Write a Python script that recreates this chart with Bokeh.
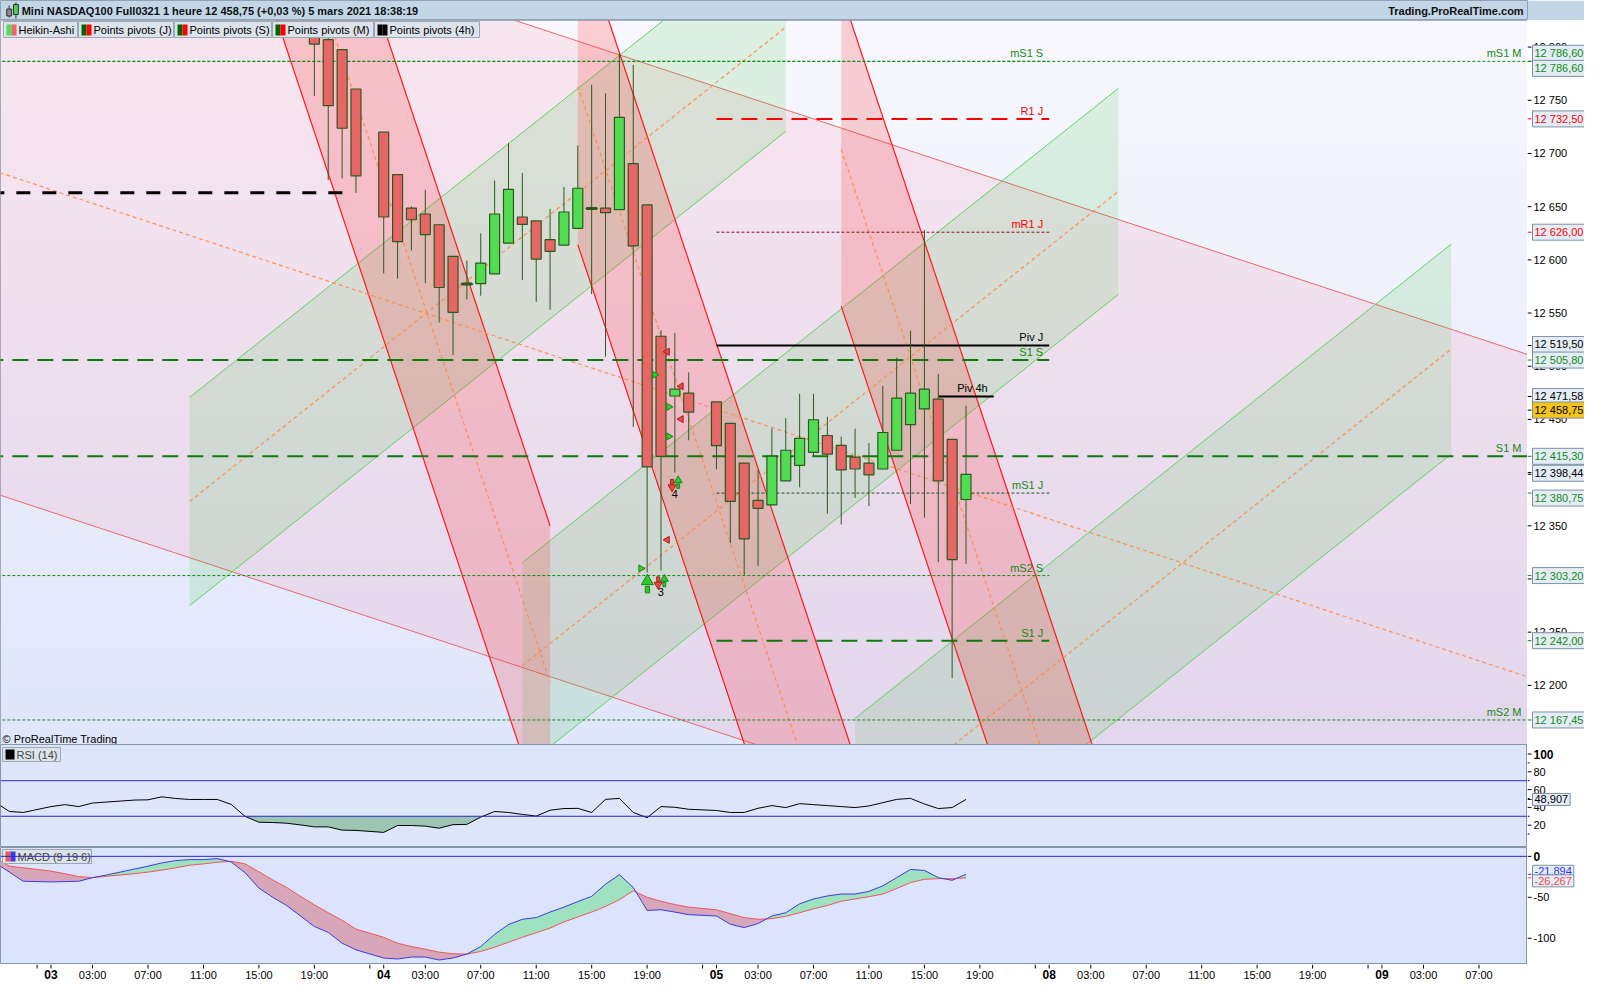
import numpy as np
from bokeh.plotting import figure
from bokeh.layouts import column, row
from bokeh.models import Range1d, Label, Span
from bokeh.embed import file_html
from bokeh.resources import INLINE
from bokeh.core.properties import value

FONT = "Liberation Sans"

# ---------------- data ----------------
ha_hour = [19, 20, 21, 22, 24, 25, 26, 27, 28, 29, 30, 31,
           32, 33, 34, 35, 36, 37, 38, 39, 40, 41, 42, 43,
           44, 45, 46,
           48, 49, 50, 51, 52, 53, 54, 55, 56, 57, 58, 59,
           60, 61, 62, 63, 64, 65, 66]
ha_open = [12812.0, 12807.0, 12797.6, 12760.6, 12720.0, 12680.2, 12648.7, 12643.1, 12633.0, 12603.3, 12577.5, 12577.7,
           12586.9, 12615.7, 12640.3, 12636.6, 12619.0, 12613.9, 12629.6, 12648.5, 12648.7, 12647.2, 12690.4, 12651.6,
           12528.2, 12472.0, 12474.7,
           12466.4, 12446.3, 12409.0, 12373.8, 12369.7, 12392.3, 12406.8, 12419.1, 12434.9, 12425.6, 12414.5, 12409.0,
           12403.4, 12421.0, 12445.1, 12459.9, 12469.1, 12431.2, 12374.7]
ha_close = [12802.8, 12744.9, 12723.7, 12679.0, 12640.3, 12617.2, 12637.7, 12623.8, 12574.0, 12550.6, 12577.0, 12597.0,
            12643.1, 12666.2, 12633.3, 12600.7, 12608.0, 12645.0, 12667.3, 12648.1, 12644.3, 12734.0, 12613.1, 12405.3,
            12415.2, 12478.4, 12456.8,
            12425.3, 12372.9, 12337.7, 12366.4, 12415.5, 12421.0, 12432.1, 12449.7, 12417.3, 12402.5, 12403.4, 12397.9,
            12437.7, 12470.1, 12474.7, 12478.4, 12392.3, 12318.2, 12398.4]
ha_high = [12820.0, 12812.0, 12797.6, 12760.6, 12720.0, 12680.2, 12650.2, 12665.9, 12633.0, 12603.3, 12599.3, 12624.9,
           12674.6, 12709.8, 12681.7, 12636.6, 12648.0, 12668.5, 12707.6, 12764.7, 12756.7, 12794.7, 12783.3, 12651.6,
           12533.8, 12531.2, 12494.2,
           12466.4, 12446.3, 12409.0, 12403.0, 12441.4, 12451.2, 12474.1, 12474.1, 12452.5, 12433.9, 12441.4, 12427.8,
           12481.5, 12508.0, 12533.3, 12628.0, 12492.6, 12431.2, 12462.7]
ha_low = [12754.0, 12675.0, 12676.5, 12663.0, 12587.2, 12582.4, 12608.8, 12578.0, 12541.1, 12510.7, 12562.7, 12566.3,
          12586.9, 12615.7, 12581.0, 12560.5, 12553.0, 12613.9, 12629.6, 12567.8, 12508.9, 12647.2, 12443.0, 12306.1,
          12308.0, 12400.0, 12430.3,
          12403.1, 12333.6, 12303.7, 12312.0, 12369.7, 12392.3, 12386.1, 12415.7, 12361.4, 12351.2, 12376.2, 12368.5,
          12403.4, 12421.0, 12370.6, 12357.7, 12316.0, 12207.0, 12314.2]

ind_hour = [-4, -3, -2, 0, 1, 2, 3, 4, 5, 6, 7, 8, 9, 10, 11, 12, 13, 14, 15, 16, 17, 18, 19, 20, 21, 22,
            24, 25, 26, 27, 28, 29, 30, 31, 32, 33, 34, 35, 36, 37, 38, 39, 40, 41, 42, 43, 44, 45, 46,
            48, 49, 50, 51, 52, 53, 54, 55, 56, 57, 58, 59, 60, 61, 62, 63, 64, 65, 66]
rsi = [45.5, 35.4, 34.3, 40.9, 43.1, 40.9, 44.9, 46.0, 47.1, 48.2, 48.5, 51.9, 50.0, 48.9, 48.9, 48.9, 43.4, 29.9,
       23.3, 23.0, 22.2, 20.3, 18.1, 18.1, 14.4, 14.1,
       11.9, 19.6, 19.6, 18.9, 16.6, 20.6, 20.9, 29.1, 35.4, 34.3, 32.1, 30.2, 36.8, 38.7, 38.9, 34.3, 49.0, 50.1,
       34.3, 28.4, 40.9, 40.1, 37.9,
       36.5, 34.3, 34.3, 39.0, 42.0, 39.8, 44.2, 43.1, 42.0, 40.9, 39.8, 41.6, 45.3, 49.0, 50.1, 43.8, 38.7, 39.8, 48.907]
macd = [-8.0, -19.2, -30.4, -31.2, -30.8, -30.4, -26.0, -22.8, -19.2, -15.6, -12.0, -8.0, -5.2, -4.0, -4.0, -2.8,
        -6.8, -20.0, -38.8, -50.0, -60.0, -72.8, -85.6, -92.8, -106.0, -114.1,
        -124.1, -125.3, -122.9, -122.9, -126.5, -124.1, -119.3, -110.1, -95.3, -83.2, -76.8, -74.8, -68.0, -62.0,
        -55.2, -48.8, -34.0, -22.4, -38.0, -66.0, -65.2, -68.0, -71.2,
        -72.8, -82.9, -86.9, -82.1, -72.8, -68.8, -58.0, -52.0, -48.4, -46.0, -46.0, -42.8, -36.0, -26.0, -16.0,
        -17.2, -26.0, -29.2, -21.894]
signal = [-2.6, -12.0, -14.0, -18.0, -21.2, -24.8, -26.0, -24.4, -22.8, -21.2, -19.2, -16.8, -14.0, -10.8, -9.2,
          -7.2, -6.0, -9.2, -18.8, -28.8, -38.0, -48.8, -59.2, -68.8, -78.0, -88.8,
          -98.8, -106.0, -110.1, -113.3, -116.9, -118.9, -119.3, -116.1, -110.9, -104.9, -98.8, -93.2, -87.6, -80.0,
          -74.0, -68.0, -61.2, -52.8, -42.0, -50.0, -54.8, -58.8, -62.0,
          -65.2, -70.0, -74.8, -76.8, -76.0, -73.2, -68.8, -64.0, -60.0, -54.8, -52.0, -49.2, -46.0, -39.2, -32.0,
          -28.0, -27.2, -27.2, -26.267]

# pivot levels
lvl_name = ["mS1 S", "mS1 M", "R1 J", "mR1 J", "Piv J", "S1 S", "Piv 4h", "S1 M", "mS1 J", "mS2 S", "S1 J", "mS2 M", ""]
lvl_value = [12786.60, 12786.60, 12732.50, 12626.00, 12519.50, 12505.80, 12471.58, 12415.30, 12380.75, 12303.20,
             12242.00, 12167.45, 12663.0]
lvl_start = [-10, -10, 48, 48, 48, -10, 64, -10, 48, -10, 48, -10, -10]
lvl_end = [72, 120, 72, 72, 72, 72, 68, 120, 72, 72, 72, 120, 21.4]

# regression channels
red_ch_start = [12, 38, 57]
red_ch_end = [36, 62, 81]
red_ch_top = [13287.7, 12912.0, 12851.5]
red_ch_width = [294.0, 297.7, 295.0]
red_ch_slope = -39.07
green_ch_start = [10, 34, 58]
green_ch_end = [53, 77, 101]
green_ch_top = [12470.7, 12315.4, 12168.9]
green_ch_width = [195.8, 193.7, 197.4]
green_ch_slope = 10.37
big_ch_start, big_ch_end, big_ch_top, big_ch_width, big_ch_slope = -20, 120, 13055.0, 606.0, -4.3

# signal markers
tri_r_h = [43.55, 44.57, 44.57, 42.55]
tri_r_v = [12491.9, 12461.8, 12434.0, 12309.9]
tri_l_h = [44.45, 45.45, 45.45, 44.45]
tri_l_v = [12513.6, 12481.2, 12450.3, 12336.8]
up_h = [43.02, 44.24, 45.24]
up_v = [12295.1, 12298.1, 12390.7]
down_h = [43.8, 44.8]
down_v = [12296.6, 12388.2]
num_h = [43.98, 45.0]
num_v = [12287.3, 12380.0]
num_text = ["3", "4"]

last_price = 12458.75
ha_last_close = 12398.44

# axis ticks
price_ticks = [12200, 12250, 12300, 12350, 12400, 12450, 12500, 12550, 12600, 12650, 12700, 12750, 12800]
rsi_ticks = [20, 40, 60, 80, 100]
rsi_minor = [10, 30, 50, 70, 90]
macd_ticks = [-100, -50, 0]
day_h = [0, 24, 48, 72, 96]
day_lbl = ["03", "04", "05", "08", "09"]
hour_off = [3, 7, 11, 15, 19]

# ---------------- layout constants ----------------
W, AXW = 1584, 57
PW = W - AXW
H_HEAD, H_MAIN, H_RSI, H_MACD, H_XAX = 20, 724, 103, 117, 20
X0, X1 = -3.64, 106.5
Y0, Y1 = 12144.4, 12825.0
R0, R1 = -5.1, 110.7
M0, M1 = -132.0, 10.8
XS = PW / (X1 - X0)
YS = H_MAIN / (Y1 - Y0)
RS = H_RSI / (R1 - R0)
MS = H_MACD / (M1 - M0)

GREEN_T = "#138a13"
RED_T = "#ff0000"
BOX_BG = "#e4ecf6"
BOX_LINE = "#7e90a4"
OUTLINE = "#8597a8"


def fmt_price(v):
    return f"{v:,.2f}".replace(",", " ").replace(".", ",")


def hx(px):
    return X0 + px / XS


def make_panel(height, yr, bg):
    f = figure(width=PW, height=height, x_range=p_xr, y_range=yr,
               x_axis_location=None, y_axis_location=None,
               toolbar_location=None, output_backend="svg", min_border=0,
               background_fill_color=bg, border_fill_color="white", outline_line_color=OUTLINE)
    f.grid.visible = False
    return f


def make_strip(height, yr):
    s = figure(width=AXW, height=height, x_range=Range1d(0, AXW), y_range=yr,
               x_axis_location=None, y_axis_location=None,
               toolbar_location=None, output_backend="svg", min_border=0,
               background_fill_color="white", border_fill_color="white", outline_line_color=None)
    s.grid.visible = False
    return s


def strip_ticks(s, ticks, labels, minor=None, bold=None):
    s.segment(x0=0, x1=4, y0=ticks, y1=ticks, line_color="black", line_width=1)
    if minor:
        s.segment(x0=0, x1=2, y0=minor, y1=minor, line_color="black", line_width=1)
    norm = [(t, l) for t, l in zip(ticks, labels) if t != bold]
    s.text(x=6, y=[t for t, _ in norm], text=[l for _, l in norm], text_font=value(FONT),
           text_font_size="11px", text_baseline="middle", text_align="left", text_color="black")
    if bold is not None:
        s.text(x=[6], y=[bold], text=[labels[ticks.index(bold)]], text_font=value(FONT), text_font_size="12px",
               text_font_style="bold", text_baseline="middle", text_align="left", text_color="black")


def box_label(s, y, text, color, bg=BOX_BG, y_offset=0):
    s.segment(x0=[0], x1=[4], y0=[y], y1=[y], line_color=color, line_width=1)
    s.add_layout(Label(x=5, y=y, x_offset=0, y_offset=y_offset, text=text, text_color=color,
                       text_font=FONT, text_font_size="11px", text_baseline="middle", text_align="left",
                       background_fill_color=bg, border_line_color=BOX_LINE, padding=2))


# ---------------- header ----------------
hd = figure(width=W, height=H_HEAD, x_range=Range1d(0, W), y_range=Range1d(0, H_HEAD),
            x_axis_location=None, y_axis_location=None, toolbar_location=None, output_backend="svg",
            min_border=0, background_fill_color="#c2d6e8", border_fill_color="#c2d6e8",
            outline_line_color="#8fa3b5")
hd.grid.visible = False
hd.segment(x0=[9, 16], y0=[3, 2], x1=[9, 16], y1=[15, 18], line_color="#303030")
hd.rect(x=[9, 16], y=[8, 11], width=[5, 5], height=[7, 10], fill_color=["#8a8a8a", "#4fd24f"],
        line_color="#303030")
hd.add_layout(Label(x=22, y=10, text="Mini NASDAQ100 Full0321 1 heure 12 458,75 (+0,03 %) 5 mars 2021 18:38:19",
                    text_font=FONT, text_font_size="11px", text_font_style="bold", text_baseline="middle",
                    text_color="#101010"))
hd.add_layout(Label(x=W - 4, y=10, text="Trading.ProRealTime.com", text_font=FONT, text_font_size="11px",
                    text_font_style="bold", text_baseline="middle", text_align="right", text_color="#101010"))

# ---------------- main chart ----------------
p_xr = Range1d(X0, X1)
p_yr = Range1d(Y0, Y1)
p = make_panel(H_MAIN, p_yr, "#eeeefa")

n = 200
t = np.linspace(0, 1, n)
c_top = np.array([248, 248, 254])
c_bot = np.array([224, 230, 251])
cols = c_bot[None, :] * (1 - t[:, None]) + c_top[None, :] * t[:, None]
img = np.zeros((n, 1), dtype=np.uint32)
view = img.view(dtype=np.uint8).reshape((n, 1, 4))
view[:, 0, 0] = cols[:, 0]
view[:, 0, 1] = cols[:, 1]
view[:, 0, 2] = cols[:, 2]
view[:, 0, 3] = 255
p.image_rgba(image=[img], x=X0, y=Y0, dw=X1 - X0, dh=Y1 - Y0)


def chan_geom(h0, h1, top0, width, slope):
    top1 = top0 + slope * (h1 - h0)
    return ([h0, h1, h1, h0], [top0, top1, top1 - width, top0 - width],
            ([h0, h1], [top0, top1]), ([h0, h1], [top0 - width, top1 - width]),
            ([h0, h1], [top0 - width / 2, top1 - width / 2]))


def draw_channel(h0, h1, top0, width, slope, fill, falpha, lcol, lw):
    xs, ys, up, lo, mid = chan_geom(h0, h1, top0, width, slope)
    p.patch(xs, ys, fill_color=fill, fill_alpha=falpha, line_color=None)
    p.line(*up, line_color=lcol, line_width=lw)
    p.line(*lo, line_color=lcol, line_width=lw)
    return mid


mids = []
mids.append(draw_channel(big_ch_start, big_ch_end, big_ch_top, big_ch_width, big_ch_slope,
                         "#ff6f88", 0.12, "#e86a6a", 1))
for i in range(3):
    mids.append(draw_channel(green_ch_start[i], green_ch_end[i], green_ch_top[i], green_ch_width[i],
                             green_ch_slope, "#3cc83c", 0.14, "#62d462", 1))
for i in range(3):
    mids.append(draw_channel(red_ch_start[i], red_ch_end[i], red_ch_top[i], red_ch_width[i],
                             red_ch_slope, "#ff2d2d", 0.2, "#ff1a1a", 1.2))
for mx_, my_ in mids:
    p.line(mx_, my_, line_color="#ff8a45", line_width=1.2, line_dash="4 3", line_alpha=0.9)

# pivot lines
lvl_color = [GREEN_T, GREEN_T, "#ff0000", "#7a1515", "black", "#0c7a0c", "black", "#0c7a0c", "#245024",
             GREEN_T, "#0c7a0c", GREEN_T, "black"]
lvl_dash = ["3 2", "3 2", "16 9", "3 2", "solid", "16 9", "solid", "16 9", "3 2", "3 2", "16 9", "3 2", "14 12"]
lvl_width = [1, 1, 2, 1, 2, 2, 2, 2, 1, 1, 2, 1, 3]
lvl_tcolor = [GREEN_T, GREEN_T, RED_T, RED_T, "black", GREEN_T, "black", GREEN_T, GREEN_T, GREEN_T, GREEN_T,
              GREEN_T, "black"]
for i in range(len(lvl_value)):
    p.line([lvl_start[i], lvl_end[i]], [lvl_value[i], lvl_value[i]], line_color=lvl_color[i],
           line_width=lvl_width[i], line_dash=lvl_dash[i])
    if lvl_name[i]:
        xe = min(lvl_end[i], X1)
        p.add_layout(Label(x=xe, y=lvl_value[i], x_offset=-6, y_offset=2, text=lvl_name[i],
                           text_color=lvl_tcolor[i], text_font=FONT, text_font_size="11px",
                           text_align="right", text_baseline="bottom"))

# Heikin-Ashi candles
o = np.array(ha_open)
c = np.array(ha_close)
body_col = ["#52dc52" if cc > oo else "#e86666" for oo, cc in zip(o, c)]
body_lw = [2.4 if abs(cc - oo) < 1 else 1.2 for oo, cc in zip(o, c)]
p.segment(x0=ha_hour, y0=ha_high, x1=ha_hour, y1=ha_low, line_color="#2b5a1f", line_width=1)
p.vbar(x=ha_hour, width=0.72, top=np.maximum(o, c), bottom=np.minimum(o, c), fill_color=body_col,
       line_color="#2b5a1f", line_width=body_lw)

# signal markers
p.scatter(tri_r_h, tri_r_v, marker="triangle", angle=-np.pi / 2, size=7, fill_color="#2fd02f",
          line_color="#138a13")
p.scatter(tri_l_h, tri_l_v, marker="triangle", angle=np.pi / 2, size=7, fill_color="#f04848",
          line_color="#b01818")
up_size = [12, 8, 8]
for hh, vv, s in zip(up_h, up_v, up_size):
    p.scatter([hh], [vv + (s * 0.25) / YS], marker="triangle", size=s, fill_color="#2fc82f",
              line_color="#108a10")
    p.rect([hh], [vv - (s * 0.45) / YS], width=s * 0.35, height=s * 0.55, width_units="screen",
           height_units="screen", fill_color="#2fc82f", line_color="#108a10")
for hh, vv in zip(down_h, down_v):
    p.scatter([hh], [vv - 2 / YS], marker="inverted_triangle", size=8, fill_color="#f04848",
              line_color="#b01818")
    p.rect([hh], [vv + 3.5 / YS], width=3, height=4.5, width_units="screen", height_units="screen",
           fill_color="#f04848", line_color="#b01818")
p.text(num_h, num_v, text=num_text, text_font=value(FONT), text_font_size="11px", text_align="center",
       text_baseline="middle", text_color="black")

# legend row
leg_items = [("Heikin-Ashi", 3, 77, ["#52dc52", "#e86666"]),
             ("Points pivots (J)", 78, 173, ["#006400", "#ff0000"]),
             ("Points pivots (S)", 174, 271, ["#006400", "#ff0000"]),
             ("Points pivots (M)", 272, 373, ["#006400", "#ff0000"]),
             ("Points pivots (4h)", 374, 479, ["#000000", "#000000"])]
for txt, x_l, x_r, sw in leg_items:
    p.quad(left=hx(x_l), right=hx(x_r), top=Y1 - 1 / YS, bottom=Y1 - 17 / YS, fill_color="#dde3ea",
           line_color="#98a8b8")
    p.quad(left=[hx(x_l + 3), hx(x_l + 8)], right=[hx(x_l + 8), hx(x_l + 13)], top=Y1 - 4 / YS,
           bottom=Y1 - 15 / YS, fill_color=sw, line_color=None)
    p.add_layout(Label(x=hx(x_l + 15), y=Y1 - 9.5 / YS, text=txt, text_font=FONT, text_font_size="11px",
                       text_baseline="middle", text_color="black"))
p.add_layout(Label(x=hx(2), y=Y0 + 6 / YS, text="© ProRealTime Trading", text_font=FONT, text_font_size="11px",
                   text_baseline="middle", text_color="black"))

# main price axis strip
ps = make_strip(H_MAIN, p_yr)
strip_ticks(ps, price_ticks, [fmt_price(tk)[:-3] for tk in price_ticks])
box_value = [12786.60, 12786.60, 12732.50, 12626.00, 12519.50, 12505.80, 12471.58, last_price, 12415.30,
             ha_last_close, 12380.75, 12303.20, 12242.00, 12167.45]
box_color = [GREEN_T, GREEN_T, RED_T, RED_T, "black", GREEN_T, "black", "black", GREEN_T, "black", GREEN_T,
             GREEN_T, GREEN_T, GREEN_T]
box_shift = [8, -7, 0, 0, 1, 0, 0, 0, 0, 1, -5, 0, 0, 0]
for bv, bc, bs in zip(box_value, box_color, box_shift):
    box_label(ps, bv, fmt_price(bv), bc, bg="#f5c518" if bv == last_price else BOX_BG, y_offset=bs)

# ---------------- RSI ----------------
r_yr = Range1d(R0, R1)
r = make_panel(H_RSI, r_yr, "#dee6fc")


def with_crossings(x, a, b):
    xs, av, bv = [x[0]], [a[0]], [b[0]]
    for i in range(1, len(x)):
        d0 = a[i - 1] - b[i - 1]
        d1 = a[i] - b[i]
        if d0 * d1 < 0:
            tt = d0 / (d0 - d1)
            xc = x[i - 1] + tt * (x[i] - x[i - 1])
            yc = a[i - 1] + tt * (a[i] - a[i - 1])
            xs.append(xc)
            av.append(yc)
            bv.append(yc)
        xs.append(x[i])
        av.append(a[i])
        bv.append(b[i])
    return np.array(xs), np.array(av), np.array(bv)


rx, ra, rb = with_crossings(ind_hour, rsi, [30.0] * len(rsi))
r.varea(x=rx, y1=np.minimum(ra, rb), y2=rb, fill_color="#9dc6b2")
r.add_layout(Span(location=70, dimension="width", line_color="#2a2ad2", line_width=1))
r.add_layout(Span(location=30, dimension="width", line_color="#2a2ad2", line_width=1))
r.line(ind_hour, rsi, line_color="black", line_width=1)
r.quad(left=hx(2), right=hx(60), top=R1 - 3 / RS, bottom=R1 - 17 / RS, fill_color="#dde3ea", line_color="#98a8b8")
r.quad(left=hx(5), right=hx(14), top=R1 - 5 / RS, bottom=R1 - 15 / RS, fill_color="black", line_color=None)
r.add_layout(Label(x=hx(16), y=R1 - 10 / RS, text="RSI (14)", text_font=FONT, text_font_size="11px",
                   text_baseline="middle"))

rs = make_strip(H_RSI, r_yr)
strip_ticks(rs, rsi_ticks, [str(v) for v in rsi_ticks], minor=rsi_minor, bold=100)
box_label(rs, rsi[-1], f"{rsi[-1]:.3f}".replace(".", ","), "black")

# ---------------- MACD ----------------
m_yr = Range1d(M0, M1)
m = make_panel(H_MACD, m_yr, "#dbe4fc")
mx, ma, mb = with_crossings(ind_hour, macd, signal)
m.varea(x=mx, y1=mb, y2=np.maximum(ma, mb), fill_color="#9fe2c0")
m.varea(x=mx, y1=np.minimum(ma, mb), y2=mb, fill_color="#d8a6b9")
m.add_layout(Span(location=0, dimension="width", line_color="#2a2ad2", line_width=1))
m.line(ind_hour, signal, line_color="#f25555", line_width=1)
m.line(ind_hour, macd, line_color="#3a3ae6", line_width=1)
m.quad(left=hx(2), right=hx(91), top=M1 - 2 / MS, bottom=M1 - 16 / MS, fill_color="#dde3ea", line_color="#98a8b8")
m.quad(left=[hx(5), hx(10)], right=[hx(10), hx(15)], top=M1 - 4 / MS, bottom=M1 - 14 / MS,
       fill_color=["#f25555", "#3a3ae6"], line_color=None)
m.add_layout(Label(x=hx(17), y=M1 - 9 / MS, text="MACD (9 19 6)", text_font=FONT, text_font_size="11px",
                   text_baseline="middle"))

ms = make_strip(H_MACD, m_yr)
strip_ticks(ms, macd_ticks, [str(v) for v in macd_ticks], bold=0)
box_label(ms, macd[-1], f"{macd[-1]:.3f}".replace(".", ","), "#3333ff", y_offset=3)
box_label(ms, signal[-1], f"{signal[-1]:.3f}".replace(".", ","), "#f04a4a", y_offset=-3)

# ---------------- time axis strip ----------------
xa = figure(width=W, height=H_XAX, x_range=p_xr, y_range=Range1d(0, H_XAX),
            x_axis_location=None, y_axis_location=None, toolbar_location=None, output_backend="svg",
            min_border_left=0, min_border_right=AXW, min_border_top=0, min_border_bottom=0,
            background_fill_color="white", border_fill_color="white", outline_line_color=None)
xa.grid.visible = False
hour_x, hour_txt, tick_x = [], [], []
for d in day_h:
    tick_x += [d - 1, d]
    for ho in hour_off:
        if d + ho <= X1:
            hour_x.append(d + ho)
            hour_txt.append(f"{ho:02d}:00")
tick_x += hour_x
xa.segment(x0=tick_x, x1=tick_x, y0=H_XAX, y1=H_XAX - 4, line_color="black", line_width=1)
xa.text(x=hour_x, y=H_XAX - 10, text=hour_txt, text_font=value(FONT), text_font_size="11px",
        text_align="center", text_baseline="middle", text_color="black")
xa.text(x=day_h, y=H_XAX - 10, text=day_lbl, text_font=value(FONT), text_font_size="12px",
        text_font_style="bold", text_align="center", text_baseline="middle", text_color="black")

layout = column(hd, row(p, ps, spacing=0), row(r, rs, spacing=0), row(m, ms, spacing=0), xa, spacing=0)
open("out.html", "w").write(file_html(layout, INLINE))
